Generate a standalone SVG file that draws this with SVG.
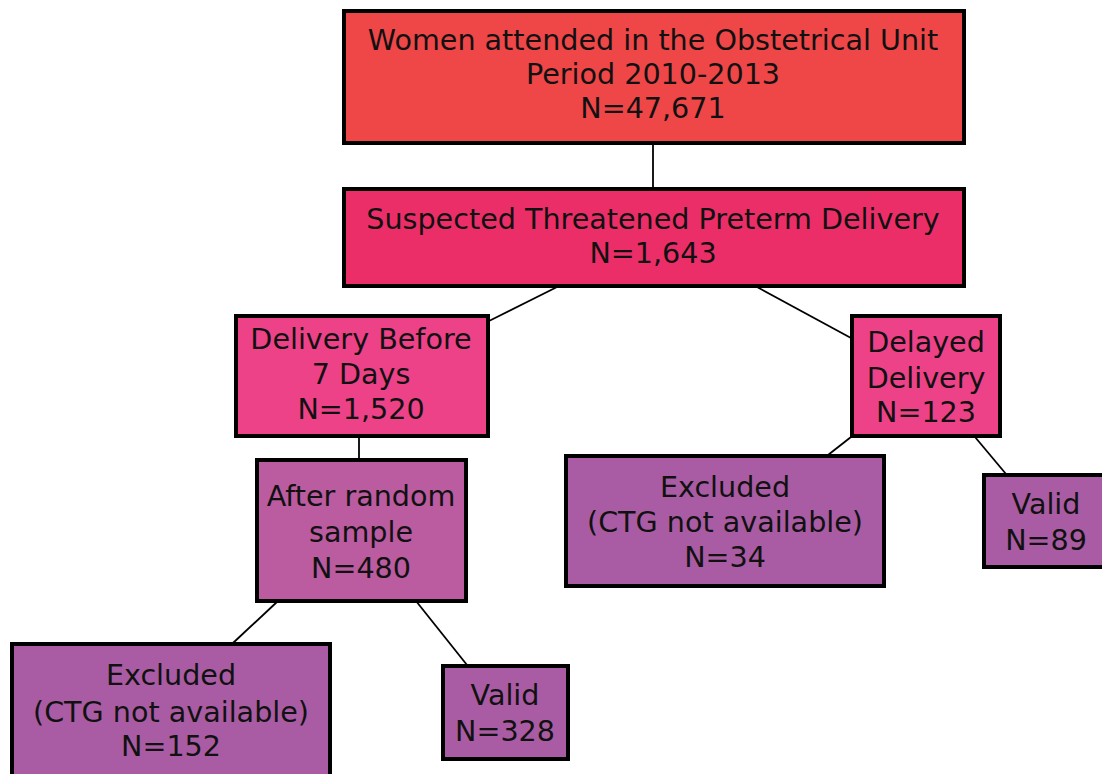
<svg xmlns="http://www.w3.org/2000/svg" width="1102" height="774" viewBox="0 0 1102 774">
<style>
.box{stroke:#000;stroke-width:4}
.t{font-family:"DejaVu Sans","Verdana",sans-serif;font-size:28.6px;fill:#111;text-anchor:middle}
.c{stroke:#000;stroke-width:1.8;fill:none}
</style>
<rect width="1102" height="774" fill="#fff"/>
<g id="connectors">
<line class="c" x1="653" y1="143" x2="653" y2="189"/>
<line class="c" x1="557" y1="287" x2="489" y2="321"/>
<line class="c" x1="757" y1="287" x2="851" y2="338"/>
<line class="c" x1="359" y1="436" x2="359" y2="459"/>
<line class="c" x1="278" y1="601" x2="233" y2="643"/>
<line class="c" x1="416" y1="601" x2="467" y2="665"/>
<line class="c" x1="851" y1="437" x2="828" y2="455"/>
<line class="c" x1="975" y1="437" x2="1006" y2="474"/>
</g>
<g id="n1">
<rect class="box" x="344" y="11" width="620" height="132" fill="#ef4648"/>
<text class="t" x="653" y="50">Women attended in the Obstetrical Unit</text>
<text class="t" x="653" y="84">Period 2010-2013</text>
<text class="t" x="653" y="118">N=47,671</text>
</g>
<g id="n2">
<rect class="box" x="344" y="189" width="620" height="97" fill="#ec2e68"/>
<text class="t" x="653" y="229">Suspected Threatened Preterm Delivery</text>
<text class="t" x="653" y="263">N=1,643</text>
</g>
<g id="n3">
<rect class="box" x="236" y="316" width="252" height="120" fill="#ed4288"/>
<text class="t" x="361" y="349">Delivery Before</text>
<text class="t" x="361" y="384">7 Days</text>
<text class="t" x="361" y="419">N=1,520</text>
</g>
<g id="n4">
<rect class="box" x="852" y="316" width="148" height="120" fill="#ed4288"/>
<text class="t" x="926" y="352">Delayed</text>
<text class="t" x="926" y="388">Delivery</text>
<text class="t" x="926" y="422">N=123</text>
</g>
<g id="n5">
<rect class="box" x="257" y="460" width="209" height="141" fill="#bb5ba0"/>
<text class="t" x="361" y="506">After random</text>
<text class="t" x="361" y="542">sample</text>
<text class="t" x="361" y="578">N=480</text>
</g>
<g id="n6">
<rect class="box" x="566" y="456" width="318" height="130" fill="#a95ca3"/>
<text class="t" x="725" y="497">Excluded</text>
<text class="t" x="725" y="532">(CTG not available)</text>
<text class="t" x="725" y="567">N=34</text>
</g>
<g id="n7">
<rect class="box" x="984" y="475" width="130" height="92" fill="#a95ca3"/>
<text class="t" x="1046" y="514">Valid</text>
<text class="t" x="1046" y="550">N=89</text>
</g>
<g id="n8">
<rect class="box" x="12" y="644" width="318" height="140" fill="#a95ca3"/>
<text class="t" x="171" y="685">Excluded</text>
<text class="t" x="171" y="722">(CTG not available)</text>
<text class="t" x="171" y="756">N=152</text>
</g>
<g id="n9">
<rect class="box" x="443" y="666" width="125" height="93" fill="#a95ca3"/>
<text class="t" x="505" y="705">Valid</text>
<text class="t" x="505" y="741">N=328</text>
</g>
</svg>
